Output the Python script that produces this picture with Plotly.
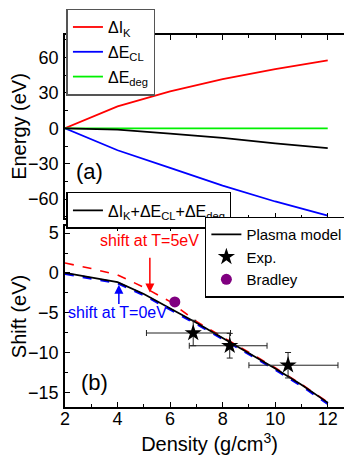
import plotly.graph_objects as go

# ---------------- data ----------------
dens_a = [2, 4, 6, 8, 10, 12]
dIK = [0, 18.6, 31.3, 41.6, 50.0, 57.6]
dECL = [0, -18.6, -33.6, -48.5, -62.0, -74.0]
dEdeg = [0, 0, 0, 0, 0, 0]
dSum = [0, -1.2, -4.5, -8.2, -12.7, -16.8]

dens_b = [2, 3, 4, 5, 6, 7, 8, 9, 10, 11, 12]
plasma = [0, -0.55, -1.15, -2.65, -4.45, -6.27, -8.17, -10.08, -12.0, -14.05, -16.3]
shift_T5 = [1.25, 0.55, -0.25, -1.8, -3.6, -6.1, -8.05, -9.98, -11.92, -13.98, -16.25]
shift_T0 = [-0.1, -0.67, -1.27, -2.77, -4.57, -6.39, -8.29, -10.2, -12.12, -14.17, -16.42]

exp_x = [6.88, 8.27, 10.49]
exp_y = [-7.55, -9.15, -11.6]
exp_xerr_plus = [1.42, 1.42, 1.9]
exp_xerr_minus = [1.78, 1.54, 1.49]
exp_yerr = [1.6, 1.55, 1.6]

bradley_x = [6.18]
bradley_y = [-3.65]

FONT = "Liberation Sans, Arial, sans-serif"
LW = 1.8

fig = go.Figure()

# ---- panel (a) ----
fig.add_trace(go.Scatter(x=dens_a, y=dIK, mode="lines", name="ΔI<sub>K</sub>", legendgroup="g1",
                         line=dict(color="#ff0000", width=LW), xaxis="x", yaxis="y", legend="legend"))
fig.add_trace(go.Scatter(x=dens_a, y=dECL, mode="lines", name="ΔE<sub>CL</sub>", legendgroup="g2",
                         line=dict(color="#0000ff", width=LW), xaxis="x", yaxis="y", legend="legend"))
fig.add_trace(go.Scatter(x=dens_a, y=dEdeg, mode="lines", name="ΔE<sub>deg</sub>", legendgroup="g3",
                         line=dict(color="#00f000", width=LW), xaxis="x", yaxis="y", legend="legend"))
fig.add_trace(go.Scatter(x=dens_a, y=dSum, mode="lines",
                         name="ΔI<sub>K</sub>+ΔE<sub>CL</sub>+ΔE<sub>deg</sub>",
                         line=dict(color="black", width=LW), xaxis="x", yaxis="y", legend="legend2"))

# ---- panel (b) ----
fig.add_trace(go.Scatter(x=dens_b, y=shift_T0, mode="lines", showlegend=False,
                         line=dict(color="#0000ff", width=2.6, dash="dash"), xaxis="x2", yaxis="y2"))
fig.add_trace(go.Scatter(x=dens_b, y=shift_T5, mode="lines", showlegend=False,
                         line=dict(color="#ff0000", width=1.6, dash="dash"), xaxis="x2", yaxis="y2"))
fig.add_trace(go.Scatter(x=dens_b, y=plasma, mode="lines", name="Plasma model",
                         line=dict(color="black", width=LW), xaxis="x2", yaxis="y2", legend="legend3"))
fig.add_trace(go.Scatter(x=exp_x, y=exp_y, mode="markers", name="Exp.",
                         marker=dict(symbol="star", size=13, color="black"),
                         error_x=dict(type="data", array=exp_xerr_plus, arrayminus=exp_xerr_minus,
                                      color="#222222", thickness=1, width=3),
                         error_y=dict(type="data", array=exp_yerr, color="#222222", thickness=1, width=3),
                         xaxis="x2", yaxis="y2", legend="legend3"))
fig.add_trace(go.Scatter(x=bradley_x, y=bradley_y, mode="markers", name="Bradley",
                         marker=dict(symbol="circle", size=11, color="#800080"),
                         xaxis="x2", yaxis="y2", legend="legend3"))

# ---- annotations ----
fig.add_annotation(x=2.95, y=-37, xref="x", yref="y", text="(a)", showarrow=False,
                   font=dict(family=FONT, size=22, color="black"))
fig.add_annotation(x=3.14, y=-13.8, xref="x2", yref="y2", text="(b)", showarrow=False,
                   font=dict(family=FONT, size=22, color="black"))
fig.add_annotation(x=5.23, y=4.1, xref="x2", yref="y2", text="shift at T=5eV", showarrow=False,
                   font=dict(family=FONT, size=16, color="#ff0000"))
fig.add_annotation(x=4.0, y=-4.95, xref="x2", yref="y2", text="shift at T=0eV", showarrow=False,
                   font=dict(family=FONT, size=16, color="#0000ff"))
fig.add_annotation(x=5.23, y=-2.45, ax=5.23, ay=2.1, xref="x2", yref="y2", axref="x2", ayref="y2",
                   text="", showarrow=True, arrowhead=2, arrowsize=1.2, arrowwidth=1.5, arrowcolor="#ff0000")
fig.add_annotation(x=4.05, y=-1.5, ax=4.05, ay=-4.1, xref="x2", yref="y2", axref="x2", ayref="y2",
                   text="", showarrow=True, arrowhead=2, arrowsize=1.2, arrowwidth=1.5, arrowcolor="#0000ff")

axis_common = dict(showline=True, linecolor="black", linewidth=1.5, mirror="allticks",
                   ticks="inside", ticklen=5, tickwidth=1.2, tickcolor="black",
                   showgrid=False, zeroline=False, automargin=False,
                   tickfont=dict(family=FONT, size=18, color="black"))

fig.update_layout(
    width=352, height=459,
    margin=dict(l=57, r=6, t=27, b=60, autoexpand=False),
    plot_bgcolor="white", paper_bgcolor="white",
    font=dict(family=FONT, size=16, color="black"),
    xaxis=dict(domain=[0, 1], anchor="y", range=[2, 13], tickvals=[2, 4, 6, 8, 10, 12],
               showticklabels=False,
               minor=dict(tickvals=[3, 5, 7, 9, 11], ticks="inside", ticklen=3, tickcolor="black"),
               **axis_common),
    yaxis=dict(domain=[0.508, 1], anchor="x", range=[-76, 79], tickvals=[-60, -30, 0, 30, 60],
               minor=dict(tickvals=[-75, -45, -15, 15, 45, 75], ticks="inside", ticklen=3, tickcolor="black"),
               title=dict(text="Energy (eV)", font=dict(family=FONT, size=20), standoff=2),
               ticklabelstandoff=1,
               **axis_common),
    xaxis2=dict(domain=[0, 1], anchor="y2", range=[2, 13], tickvals=[2, 4, 6, 8, 10, 12],
                minor=dict(tickvals=[3, 5, 7, 9, 11], ticks="inside", ticklen=3, tickcolor="black"),
                title=dict(text="Density (g/cm<sup>3</sup>)", font=dict(family=FONT, size=20), standoff=9),
                ticklabelstandoff=-5,
                **axis_common),
    yaxis2=dict(domain=[0, 0.4866], anchor="x2", range=[-16.85, 5.9], tickvals=[-15, -10, -5, 0, 5],
                minor=dict(tickvals=[-12.5, -7.5, -2.5, 2.5], ticks="inside", ticklen=3, tickcolor="black"),
                title=dict(text="Shift (eV)", font=dict(family=FONT, size=20), standoff=2),
                ticklabelstandoff=1,
                **axis_common),
    legend=dict(x=0.005, y=1.071, xanchor="left", yanchor="top", bgcolor="white",
                bordercolor="#555555", borderwidth=1.5, font=dict(family=FONT, size=16),
                tracegroupgap=1),
    legend2=dict(x=0.005, y=0.578, xanchor="left", yanchor="top", bgcolor="white",
                 bordercolor="black", borderwidth=1.5, font=dict(family=FONT, size=16)),
    legend3=dict(x=0.484, y=0.512, xanchor="left", yanchor="top", bgcolor="white",
                 bordercolor="black", borderwidth=1.5, font=dict(family=FONT, size=15)),
)

fig.write_html("out.html")
